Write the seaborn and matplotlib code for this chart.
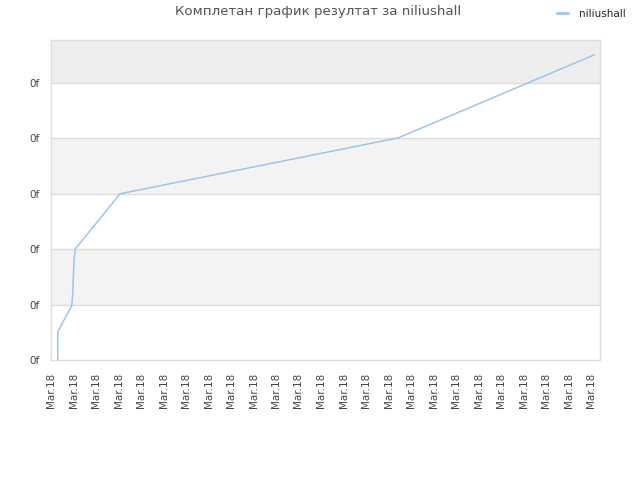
import matplotlib
matplotlib.use("Agg")
import matplotlib.pyplot as plt
import seaborn as sns
import pandas as pd

# data (x in tick-index units, y in gridline units)
x_vals = [0.30, 0.30, 0.92, 0.96, 1.02, 1.07, 3.07, 15.44, 24.15]
y_vals = [0.00, 0.51, 0.98, 1.17, 1.75, 2.00, 3.00, 4.01, 5.51]
x_tick_labels = ["Mar.18"] * 25
y_tick_labels = ["0f", "0f", "0f", "0f", "0f", "0f"]
series_name = "niliushall"
title = "Комплетан график резултат за niliushall"

sns.set_theme(style="white")
plt.rcParams["font.family"] = ["DejaVu Sans"]

df = pd.DataFrame({"x": x_vals, "y": y_vals, "series": series_name})

fig = plt.figure(figsize=(6.4, 4.8), dpi=100)
ax = fig.add_axes([51 / 640, 120 / 480, 549 / 640, 320 / 480])

ymax = 5.776
xmax = 24.4
# alternating bands
band_colors = {1: "#f3f3f3", 3: "#f3f3f3", 5: "#eeeeee"}
for b, c in band_colors.items():
    ax.axhspan(b, min(b + 1, ymax), color=c, zorder=0, lw=0)
for g in range(1, 6):
    ax.axhline(g, color="#dddddd", lw=1, zorder=1)

sns.lineplot(data=df, x="x", y="y", hue="series", palette=["#99c5f2"],
             sort=False, estimator=None, lw=1.1, ax=ax, zorder=3)

ax.set_xlim(0, xmax)
ax.set_ylim(0, ymax)
ax.set_xticks(range(len(x_tick_labels)))
ax.set_xticklabels(x_tick_labels, rotation=90, fontsize=7.5, color="#444444")
ax.set_yticks(range(len(y_tick_labels)))
ax.set_yticklabels(y_tick_labels, fontsize=7.5, color="#444444")
ax.tick_params(axis="x", length=0, pad=9)
ax.tick_params(axis="y", length=0, pad=8.5)
ax.set_xlabel("")
ax.set_ylabel("")
for s in ax.spines.values():
    s.set_color("#dddddd")
    s.set_linewidth(1)

fig.text(318 / 640, 1 - 12 / 480, title, ha="center", va="center",
         fontsize=9.6, color="#555555")

leg = ax.legend(loc="center left", bbox_to_anchor=(557 / 640, 1 - 14 / 480),
                bbox_transform=fig.transFigure, frameon=False, fontsize=7.5,
                handlelength=1.1, handletextpad=1.0, borderaxespad=0,
                borderpad=0)
for t in leg.get_texts():
    t.set_color("#222222")
for h in leg.get_lines():
    h.set_linewidth(2)

fig.savefig("out.png", dpi=100)
